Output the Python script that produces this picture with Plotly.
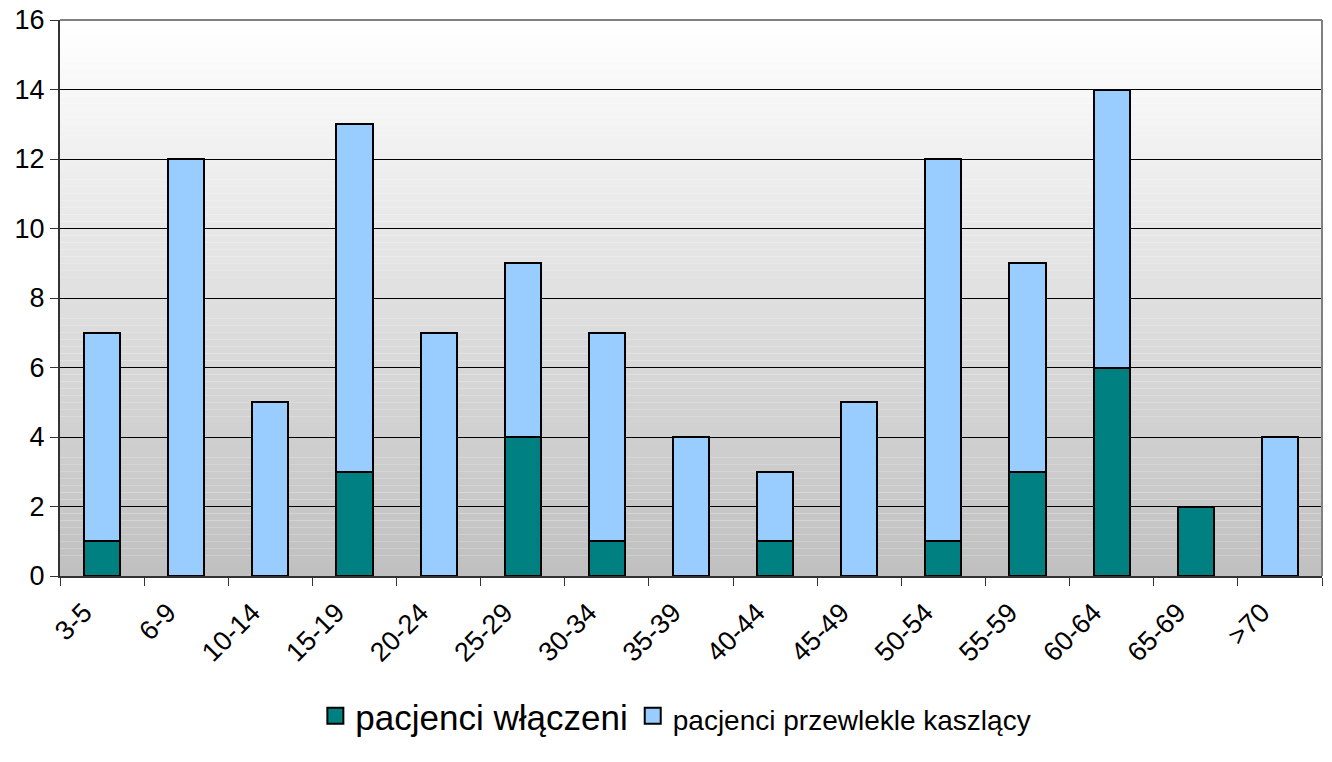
import plotly.graph_objects as go

categories = ["3-5", "6-9", "10-14", "15-19", "20-24", "25-29", "30-34", "35-39",
              "40-44", "45-49", "50-54", "55-59", "60-64", "65-69", ">70"]
wlaczeni = [1, 0, 0, 3, 0, 4, 1, 0, 1, 0, 1, 3, 6, 2, 0]
kaszlacy = [6, 12, 5, 10, 7, 5, 6, 4, 2, 5, 11, 6, 8, 0, 4]
series_names = ["pacjenci włączeni", "pacjenci przewlekle kaszlący"]
y_ticks = [0, 2, 4, 6, 8, 10, 12, 14, 16]

TEAL = "#008080"
LIGHT = "#99CCFF"

fig = go.Figure()
fig.add_trace(go.Bar(
    x=categories, y=wlaczeni, name=series_names[0], showlegend=False,
    marker=dict(color=TEAL, line=dict(color="#000000", width=2)),
))
fig.add_trace(go.Bar(
    x=categories, y=kaszlacy, name=series_names[1], showlegend=False,
    marker=dict(color=LIGHT, line=dict(color="#000000", width=2)),
))
# legend entries (larger square swatches)
fig.add_trace(go.Scatter(
    x=[None], y=[None], mode="markers", name=series_names[0],
    marker=dict(symbol="square", size=18, color=TEAL, line=dict(color="#000000", width=2)),
))
fig.add_trace(go.Scatter(
    x=[None], y=[None], mode="markers",
    name=f"<span style='font-size:28px'>{series_names[1]}</span>",
    marker=dict(symbol="square", size=18, color=LIGHT, line=dict(color="#000000", width=2)),
))

# gradient background for plot area
n = 80
shapes = []
for i in range(n):
    t = i / (n - 1)
    v = int(round(255 - (255 - 192) * t))
    shapes.append(dict(type="rect", xref="paper", yref="paper",
                       x0=0, x1=1, y0=1 - (i + 1) / n, y1=1 - i / n,
                       fillcolor=f"rgb({v},{v},{v})", line=dict(width=0),
                       layer="below"))
# gray top/right border
shapes.append(dict(type="line", xref="paper", yref="paper", x0=0, x1=1, y0=1, y1=1,
                   line=dict(color="#808080", width=2), layer="above"))
shapes.append(dict(type="line", xref="paper", yref="paper", x0=1, x1=1, y0=0, y1=1,
                   line=dict(color="#808080", width=2), layer="above"))

fig.update_layout(
    width=1332, height=762,
    margin=dict(l=60, r=10, t=20, b=186),
    paper_bgcolor="white", plot_bgcolor="rgba(0,0,0,0)",
    barmode="stack", bargap=0.57,
    font=dict(family="Liberation Sans, Arial, sans-serif", color="#000000"),
    shapes=shapes,
    showlegend=True,
    legend=dict(orientation="h", x=0.488, xanchor="center", y=-0.252, yanchor="middle",
                traceorder="normal", font=dict(size=35), itemwidth=30,
                itemsizing="trace", bgcolor="rgba(0,0,0,0)"),
    xaxis=dict(
        tickangle=-45, tickfont=dict(size=27), tickson="boundaries",
        ticks="outside", ticklen=8, tickcolor="#333333", automargin=False,
        ticklabeloverflow="allow", ticklabelshift=-18, ticklabelstandoff=8,
        showline=True, linecolor="#333333", linewidth=2, showgrid=False,
    ),
    yaxis=dict(
        range=[0, 16], tickvals=y_ticks, tickfont=dict(size=27),
        ticks="outside", ticklen=8, tickcolor="#333333", automargin=False,
        ticklabeloverflow="allow",
        showline=True, linecolor="#333333", linewidth=2,
        showgrid=True, gridcolor="#000000", gridwidth=1, zeroline=False,
    ),
)

fig.write_html("out.html", config={"displayModeBar": False},
               post_script="document.body.style.margin='0';")
